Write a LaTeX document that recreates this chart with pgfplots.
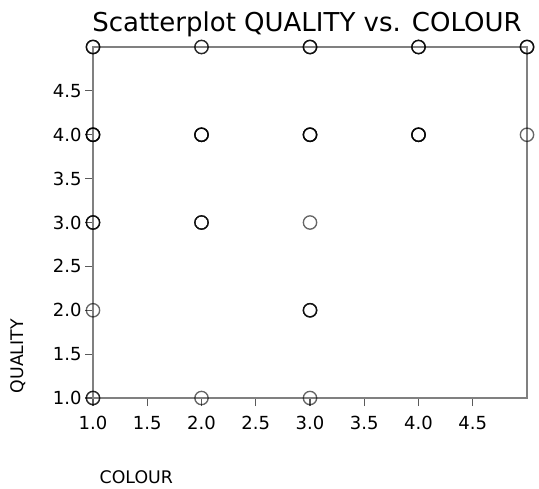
\documentclass[border=0pt]{standalone}
\usepackage{fontspec}
\setmainfont{DejaVu Sans}
\usepackage{pgfplots}
\pgfplotsset{compat=1.18}

\definecolor{axisgray}{RGB}{128,128,128}

% COLOUR / QUALITY ratings, one row per case (repeated pairs overplot)
\begin{document}
\begin{tikzpicture}
\begin{axis}[
  scale only axis,
  width=325.5pt, height=263.25pt,
  xmin=1, xmax=5, ymin=1, ymax=5,
  clip=false,
  axis line style={axisgray, line width=1.2pt},
  xtick={1,1.5,...,4.5},
  ytick={1,1.5,...,4.5},
  xtick pos=bottom, ytick pos=left,
  tick align=outside,
  major tick length=6pt,
  tick style={axisgray!70!black, line width=0.9pt},
  /pgf/number format/assume math mode=true,
  /pgf/number format/.cd, fixed, fixed zerofill, precision=1, /pgfplots/.cd,
  ticklabel style={font=\fontsize{13.5}{15}\selectfont},
  xticklabel style={anchor=north, yshift=-4pt},
  yticklabel style={anchor=east, xshift=1pt},
]
\addplot[only marks, mark=o, mark size=5pt,
  mark options={draw=black, draw opacity=0.6, line width=1pt}]
  table {
x y
1 5
1 5
1 5
2 5
2 5
3 5
3 5
3 5
4 5
4 5
4 5
5 5
5 5
5 5
1 4
1 4
1 4
1 4
2 4
2 4
2 4
2 4
3 4
3 4
3 4
3 4
4 4
4 4
4 4
4 4
5 4
1 3
1 3
1 3
2 3
2 3
2 3
3 3
1 2
3 2
3 2
3 2
1 1
1 1
2 1
3 1
};
\node[anchor=base, font=\fontsize{19.5}{22}\selectfont]
  at ([yshift=12pt]rel axis cs:0.493,1) {Scatterplot QUALITY vs. COLOUR};
\node[anchor=base west, font=\fontsize{13}{15}\selectfont]
  at ([xshift=1.5pt, yshift=-63.75pt]rel axis cs:0,0) {COLOUR};
\node[anchor=west, rotate=90, font=\fontsize{13}{15}\selectfont]
  at ([xshift=-56pt]rel axis cs:0,0) {QUALITY};
\end{axis}
\pgfresetboundingbox
\path[use as bounding box]
  ([xshift=-69.75pt, yshift=-67.5pt]current axis.south west)
  rectangle ([xshift=9pt, yshift=35.25pt]current axis.north east);
\end{tikzpicture}
\end{document}
